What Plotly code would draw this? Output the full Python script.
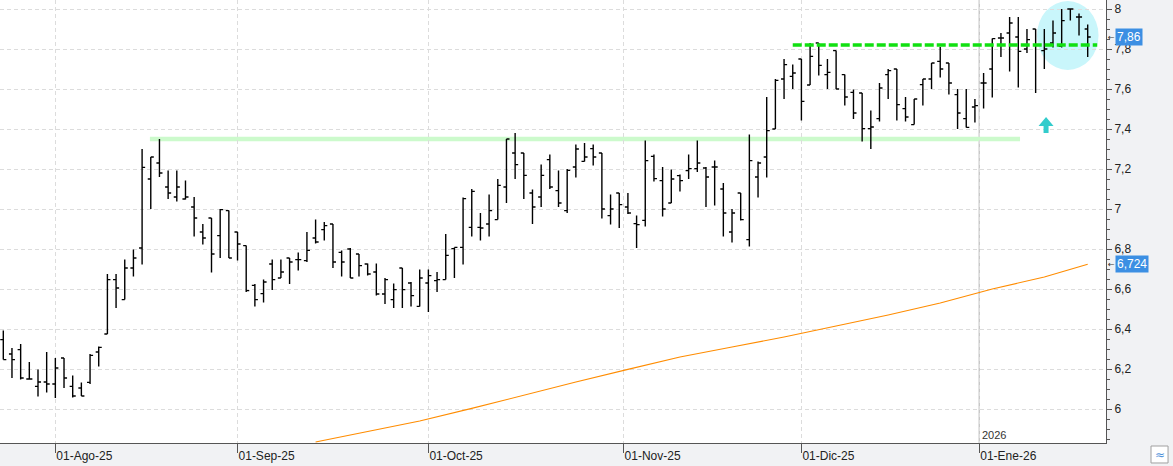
import pandas as pd
import plotly.graph_objects as go

# ---------------- data ----------------
holidays = ["2025-12-25", "2025-12-26", "2026-01-01"]
dates = [d.strftime("%Y-%m-%d") for d in pd.bdate_range("2025-07-24", "2026-01-20")
         if d.strftime("%Y-%m-%d") not in holidays]

open_ = [6.347, 6.275, 6.297, 6.15, 6.113, 6.135, 6.125, 6.255, 6.113, 6.105,
         6.133, 6.285, 6.375, 6.647, 6.547, 6.705, 6.805, 7.15, 7.23, 7.11,
         7.06, 7.05, 7.01, 6.885, 6.955, 6.867, 6.992, 6.885, 6.817, 6.618,
         6.577, 6.725, 6.655, 6.755, 6.747, 6.742, 6.855, 6.897, 6.925, 6.783,
         6.80, 6.775, 6.725, 6.685, 6.575, 6.547, 6.705, 6.63, 6.513, 6.63,
         6.642, 6.647, 6.802, 6.808, 6.908, 6.908, 6.925, 6.947, 7.11, 7.28,
         7.28, 7.08, 7.06, 7.247, 7.092, 6.992, 7.21, 7.238, 7.302, 7.28,
         6.967, 7.08, 7.01, 6.927, 6.943, 7.263, 7.142, 7.03, 7.167, 7.192,
         7.202, 7.205, 7.21, 7.10, 6.885, 7.08, 6.847, 7.16, 7.26, 7.40,
         7.65, 7.663, 7.75, 7.62, 7.83, 7.672, 7.792, 7.672, 7.583, 7.58,
         7.402, 7.452, 7.672, 7.70, 7.502, 7.422, 7.622, 7.65, 7.738, 7.73,
         7.572, 7.452, 7.51, 7.63, 7.70, 7.855, 7.88, 7.86, 7.80, 7.90,
         7.792, 7.83, 7.813, 8.0, 7.96, 7.90]
high = [6.393, 6.305, 6.325, 6.235, 6.197, 6.285, 6.255, 6.255, 6.167, 6.133,
        6.275, 6.313, 6.675, 6.675, 6.747, 6.797, 7.30, 7.26, 7.35, 7.192,
        7.192, 7.142, 7.06, 6.925, 6.955, 7.0, 6.992, 6.885, 6.817, 6.625,
        6.647, 6.747, 6.747, 6.755, 6.783, 6.885, 6.947, 6.935, 6.925, 6.792,
        6.805, 6.775, 6.727, 6.727, 6.655, 6.627, 6.705, 6.635, 6.697, 6.697,
        6.685, 6.875, 6.808, 7.058, 7.10, 6.98, 7.072, 7.15, 7.35, 7.38,
        7.28, 7.097, 7.222, 7.272, 7.192, 7.20, 7.322, 7.33, 7.322, 7.28,
        7.072, 7.08, 7.08, 6.967, 7.342, 7.272, 7.21, 7.197, 7.172, 7.272,
        7.342, 7.21, 7.242, 7.13, 7.0, 7.08, 7.372, 7.238, 7.56, 7.65,
        7.75, 7.722, 7.75, 7.83, 7.83, 7.75, 7.792, 7.672, 7.597, 7.58,
        7.492, 7.63, 7.70, 7.70, 7.56, 7.55, 7.65, 7.73, 7.81, 7.73,
        7.60, 7.60, 7.55, 7.68, 7.852, 7.88, 7.96, 7.96, 7.90, 7.90,
        7.90, 7.942, 8.0, 8.0, 7.977, 7.922]
low = [6.247, 6.155, 6.147, 6.147, 6.063, 6.083, 6.055, 6.105, 6.057, 6.065,
       6.125, 6.213, 6.375, 6.505, 6.547, 6.663, 6.722, 7.0, 7.16, 7.05,
       7.038, 7.047, 6.863, 6.822, 6.683, 6.755, 6.755, 6.743, 6.585, 6.513,
       6.533, 6.595, 6.655, 6.625, 6.693, 6.735, 6.827, 6.843, 6.705, 6.663,
       6.655, 6.663, 6.667, 6.567, 6.525, 6.505, 6.505, 6.513, 6.513, 6.485,
       6.585, 6.647, 6.655, 6.722, 6.863, 6.843, 6.863, 6.947, 7.03, 7.15,
       7.05, 6.925, 7.01, 7.10, 7.01, 6.98, 7.158, 7.238, 7.218, 6.952,
       6.922, 6.905, 6.975, 6.805, 6.913, 7.138, 6.963, 7.03, 7.088, 7.15,
       7.185, 7.01, 7.018, 6.863, 6.833, 6.943, 6.813, 7.058, 7.158, 7.40,
       7.55, 7.60, 7.442, 7.62, 7.667, 7.60, 7.60, 7.518, 7.45, 7.338,
       7.30, 7.438, 7.55, 7.442, 7.438, 7.422, 7.518, 7.60, 7.658, 7.572,
       7.40, 7.408, 7.433, 7.502, 7.558, 7.76, 7.688, 7.608, 7.78, 7.58,
       7.70, 7.808, 7.808, 7.942, 7.868, 7.76]
close = [6.247, 6.247, 6.155, 6.15, 6.135, 6.125, 6.205, 6.155, 6.065, 6.065,
         6.268, 6.308, 6.647, 6.605, 6.705, 6.755, 7.208, 7.26, 7.18, 7.08,
         7.11, 7.06, 6.955, 6.855, 6.775, 6.997, 6.755, 6.825, 6.592, 6.547,
         6.635, 6.647, 6.685, 6.735, 6.747, 6.793, 6.835, 6.917, 6.735, 6.735,
         6.655, 6.717, 6.675, 6.575, 6.647, 6.597, 6.597, 6.567, 6.655, 6.667,
         6.647, 6.768, 6.808, 7.052, 7.088, 6.905, 6.992, 7.118, 7.35, 7.222,
         7.168, 7.01, 7.168, 7.11, 7.03, 7.193, 7.30, 7.26, 7.26, 7.0,
         7.0, 7.022, 6.98, 6.922, 7.242, 7.152, 7.0, 7.15, 7.142, 7.202,
         7.23, 7.16, 7.21, 6.98, 6.98, 6.947, 7.242, 7.23, 7.392, 7.643,
         7.722, 7.68, 7.538, 7.763, 7.718, 7.683, 7.60, 7.56, 7.48, 7.402,
         7.41, 7.605, 7.692, 7.522, 7.46, 7.55, 7.65, 7.73, 7.70, 7.63,
         7.48, 7.408, 7.517, 7.63, 7.852, 7.855, 7.93, 7.788, 7.847, 7.822,
         7.80, 7.88, 7.942, 8.0, 7.96, 7.86]

# 200-session moving average (read at sample sessions)
ma_dates = ["2025-09-12", "2025-09-22", "2025-09-30", "2025-10-08", "2025-10-16",
            "2025-10-24", "2025-11-03", "2025-11-11", "2025-11-19", "2025-11-27",
            "2025-12-05", "2025-12-15", "2025-12-23", "2026-01-05", "2026-01-13",
            "2026-01-20"]
ma_values = [5.835, 5.887, 5.94, 6.003, 6.07, 6.135, 6.198, 6.26, 6.31, 6.36,
             6.415, 6.47, 6.53, 6.60, 6.66, 6.724]

tick_dates = ["2025-08-01", "2025-09-01", "2025-10-01", "2025-11-01", "2025-12-01", "2026-01-01"]
tick_labels = ["01-Ago-25", "01-Sep-25", "01-Oct-25", "01-Nov-25", "01-Dic-25", "01-Ene-26"]

support_level = 7.35
support_from, support_to = "2025-08-18", "2026-01-08"
resistance_level = 7.82
resistance_from = "2025-11-28"
year_label = "2026"


def date_pos(d):
    if d in dates:
        return dates.index(d)
    nxt = next(i for i, x in enumerate(dates) if x > d)
    return nxt - 0.5


def fmt(v):
    return format(v, "g").replace(".", ",")


FONT = "Liberation Sans, Arial, sans-serif"
AX = "#555555"
GRID = "#dcdcdc"

fig = go.Figure()
fig.add_trace(go.Ohlc(
    x=dates, open=open_, high=high, low=low, close=close,
    increasing=dict(line=dict(color="black", width=1.4)),
    decreasing=dict(line=dict(color="black", width=1.4)),
    tickwidth=0.35, hoverinfo="skip", showlegend=False,
))
fig.add_trace(go.Scatter(
    x=ma_dates, y=ma_values, mode="lines",
    line=dict(color="#ff8c00", width=1.1), hoverinfo="skip", showlegend=False,
))

shapes = []
# highlight circle (behind bars)
shapes.append(dict(type="circle", xref="x", yref="y", layer="below",
                   x0=dates.index("2026-01-12") + 0.15, x1=dates.index("2026-01-20") + 1.25,
                   y0=7.695, y1=8.04, fillcolor="#c9f6fb", line=dict(width=0)))
# support band
shapes.append(dict(type="line", xref="x", yref="y", layer="below",
                   x0=date_pos(support_from) - 0.1, x1=date_pos(support_to) + 0.2,
                   y0=support_level, y1=support_level,
                   line=dict(color="#ccfacc", width=4.5)))
# resistance dashed
shapes.append(dict(type="line", xref="x", yref="y", layer="above",
                   x0=date_pos(resistance_from), x1=len(dates) + 0.1,
                   y0=resistance_level, y1=resistance_level,
                   line=dict(color="#11e011", width=3.5, dash="9px,3px")))
# year separator
yr = date_pos(tick_dates[-1])
shapes.append(dict(type="line", xref="x", yref="paper", layer="below",
                   x0=yr, x1=yr, y0=0, y1=1, line=dict(color="#c8c8c8", width=1.5)))
# up arrow
shapes.append(dict(type="path", xref="x", yref="y", xsizemode="pixel", ysizemode="pixel",
                   xanchor=dates.index("2026-01-13") + 0.2, yanchor=7.42,
                   path="M 0 8 L 7.5 -1 L 2.5 -1 L 2.5 -8 L -2.5 -8 L -2.5 -1 L -7.5 -1 Z",
                   fillcolor="#33cccc", line=dict(width=0)))
# small icon bottom right
shapes.append(dict(type="rect", xref="paper", yref="paper",
                   x0=1.0407, x1=1.0561, y0=-0.0068, y1=-0.0451,
                   fillcolor="white", line=dict(color="#a0a0a0", width=1)))

annotations = []
for val in (close[-1], ma_values[-1]):
    annotations.append(dict(xref="paper", yref="y", x=1, y=val, xanchor="left", yanchor="middle",
                            xshift=9, text=fmt(val), showarrow=False,
                            font=dict(family=FONT, size=12, color="white"),
                            bgcolor="#3c8fe3", borderpad=1))
    annotations.append(dict(xref="paper", yref="y", x=1, y=val, xanchor="left", yanchor="middle",
                            xshift=0, text="←", showarrow=False,
                            font=dict(family="DejaVu Sans", size=8, color="#333333")))
annotations.append(dict(xref="x", yref="paper", x=yr, y=0, xanchor="left", yanchor="bottom",
                        xshift=1, yshift=0, text=year_label, showarrow=False,
                        font=dict(family=FONT, size=11, color="#333333")))
annotations.append(dict(xref="paper", yref="paper", x=1.0484, y=-0.026, xanchor="center",
                        yanchor="middle", text="≈", showarrow=False,
                        font=dict(family="DejaVu Sans", size=12, color="#4a90d9")))

fig.update_layout(
    width=1173, height=466,
    margin=dict(l=0, r=67, t=0, b=23),
    paper_bgcolor="#f1f2f4", plot_bgcolor="white",
    separators=",.",
    font=dict(family=FONT, size=12, color="#222222"),
    shapes=shapes, annotations=annotations,
    showlegend=False,
)
fig.update_xaxes(
    type="category", range=[-0.38, 127.11], rangeslider=dict(visible=False),
    tickmode="array", tickvals=[date_pos(d) for d in tick_dates], ticktext=tick_labels,
    ticks="outside", ticklen=9, tickcolor=AX, ticklabelposition="outside right",
    ticklabelstandoff=2,
    showgrid=True, gridcolor=GRID, griddash="4px,3px",
    showline=True, linecolor=AX, linewidth=1, zeroline=False,
    tickfont=dict(family=FONT, size=12, color="#222222"),
)
fig.update_yaxes(
    side="right", range=[5.83, 8.045], tick0=0, dtick=0.2,
    ticks="outside", ticklen=5, tickcolor=AX,
    minor=dict(dtick=0.05, ticks="outside", ticklen=3, tickcolor=AX, showgrid=False),
    showgrid=True, gridcolor=GRID, griddash="4px,3px",
    showline=True, linecolor=AX, linewidth=1, zeroline=False,
    tickfont=dict(family=FONT, size=12, color="#222222"),
)

fig.write_html("out.html")
